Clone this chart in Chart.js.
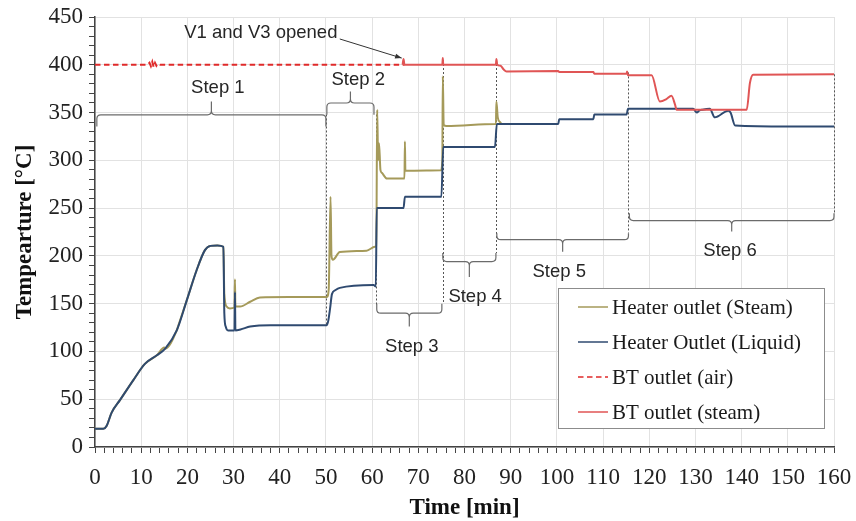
<!DOCTYPE html>
<html>
<head>
<meta charset="utf-8">
<script src="https://cdn.jsdelivr.net/npm/chart.js@4.4.1/dist/chart.umd.min.js"></script>
<style>
  html, body { margin: 0; padding: 0; background: #fff; }
  canvas { display: block; }
</style>
</head>
<body>
<canvas id="chart" width="856" height="521"></canvas>
<script>
const seriesNames = ['Heater outlet (Steam)', 'Heater Outlet (Liquid)', 'BT outlet (air)', 'BT outlet (steam)']
const seriesColors = ['#a59a5a', '#2f4a70', '#e02a2a', '#e05555']

// Heater outlet (Steam)
const steamTime = [0, 1.8, 2.5, 3.6, 5.4, 8.3, 10.8, 13.4, 15.0, 15.2, 17.7, 17.9, 19.9, 22, 23.8, 25.0, 26.5, 27.8,
  28.0, 28.5, 29.2, 30.2, 30.3, 30.4, 31.4, 33.6, 35.7, 42, 50.2, 50.6, 51.0, 51.2, 51.5, 53, 58.8, 60.6, 60.9,
  61.1, 61.3, 61.5, 61.8, 62.1, 63.2, 67.0, 67.1, 67.2, 74.9, 75.2, 75.3, 75.5, 76.1, 86.6, 86.8, 86.9, 87.2, 87.7, 88]
const steamTemp = [19, 19, 22, 36, 49, 70, 87, 96, 104, 103, 122, 125, 154, 185, 206, 210.5, 211, 209.5,
  160, 147, 145, 146, 175.5, 147, 147, 152, 156.5, 157, 157, 165, 262, 200, 196, 204, 205.5, 209.5, 210,
  353, 300, 318, 290, 287, 281, 281, 319.7, 289, 289.5, 300, 388, 337, 336, 338, 338, 361.6, 345, 340, 338]

// Heater Outlet (Liquid)
const liquidTime = [0, 1.8, 2.5, 3.6, 5.4, 8.3, 10.8, 13.4, 15.2, 17.7, 19.9, 22, 23.8, 25.0, 26.5, 27.8,
  28.0, 28.3, 28.8, 30.2, 30.3, 30.4, 31.5, 33.6, 38, 50.2, 50.5, 50.9, 51.3, 52, 53, 60.3, 60.8, 61.0,
  66.8, 67.1, 75.0, 75.4, 86.6, 87.0, 100.3, 100.5, 107.9, 108.1, 115.1, 115.4, 129.5, 130.3, 130.8, 131.5,
  133.1, 134.2, 137.1, 137.6, 138.6, 150, 160]
const liquidTemp = [19, 19, 22, 36, 49, 70, 87, 96, 103, 122, 154, 185, 206, 210.5, 211, 209.5,
  140, 126, 122, 122, 162, 122, 123, 126, 127.5, 127.5, 132, 145, 160, 164, 166.5, 169.5, 168, 250,
  250, 262, 262, 314, 314, 338, 338, 343, 343, 348, 348, 354, 354, 350, 352, 353,
  354, 345, 352, 350, 336.5, 335.5, 335.5]

// BT outlet (air)
const airTime = [0, 11.4, 11.8, 12.1, 12.4, 12.7, 13.0, 13.3, 13.6, 14.1, 67.0]
const airTemp = [400, 400, 402, 398.5, 403, 397.5, 402, 399, 401, 400, 400]

// BT outlet (steam)
const btSteamTime = [66.6, 66.8, 67.0, 75.2, 75.3, 75.4, 86.8, 86.9, 87.1, 87.8, 88.5, 89.1, 100.3, 100.5,
  107.9, 108.1, 115.1, 115.2, 115.4, 120.5, 122.3, 123.7, 124.8, 125.6, 125.9, 141.1, 141.8, 142.5, 160]
const btSteamTemp = [400, 406, 400, 400, 407, 400, 400, 406, 400, 399, 395, 393, 393.5, 392.4,
  392.4, 390.7, 390.7, 393, 389, 389, 361.6, 364, 367.6, 358, 353, 353, 381, 389.6, 390]

// step brackets (time span, bracket level, edge and tip temperatures, label position)
const stepNames = ['Step 1', 'Step 2', 'Step 3', 'Step 4', 'Step 5', 'Step 6']
const stepStart = [0.4, 50.2, 61, 75.3, 87, 115.7]
const stepEnd = [50, 60.4, 75.1, 86.8, 115.5, 160]
const stepLevel = [347.6, 360, 140, 194, 217, 237]
const stepEdge = [335.5, 347.6, 150, 203, 223.7, 244.6]
const stepTip = [361.6, 372, 126, 178, 204.4, 225.4]
const stepLabelTime = [26.6, 57, 68.6, 82.3, 100.5, 137.5]
const stepLabelTemp = [376, 384, 105, 157, 183, 205]

// dotted step boundaries
const dividerTime = [50.1, 60.9, 75.3, 86.9, 115.5, 160]
const dividerTop = [348, 348, 405, 405, 392, 390]
const dividerBottom = [126, 147, 150, 203, 223.7, 244.6]

// "V1 and V3 opened" note
const noteText = 'V1 and V3 opened'
const noteAt = [35.9, 433]
const arrowFrom = [53, 427]
const arrowTo = [66.4, 407]

const xTicks = { min: 0, max: 160, step: 2, labelEvery: 10 }
const yTicks = { min: 0, max: 450, step: 10, labelEvery: 50 }

const serif = '"Liberation Serif", "Times New Roman", serif'
const sans = '"Liberation Sans", Arial, sans-serif'

const toPoints = (xs, ys) => xs.map((x, i) => ({ x, y: ys[i] }))

const stepAnnotations = {
  id: 'stepAnnotations',
  beforeDatasetsDraw(chart) {
    const { ctx, scales: { x, y } } = chart
    ctx.save()
    ctx.strokeStyle = '#555'
    ctx.lineWidth = 1
    ctx.setLineDash([2, 2])
    dividerTime.forEach((t, i) => {
      const px = Math.round(x.getPixelForValue(t)) + 0.5
      ctx.beginPath()
      ctx.moveTo(px, y.getPixelForValue(dividerTop[i]))
      ctx.lineTo(px, y.getPixelForValue(dividerBottom[i]))
      ctx.stroke()
    })
    ctx.restore()
  },
  afterDatasetsDraw(chart) {
    const { ctx, scales: { x, y } } = chart
    ctx.save()
    ctx.strokeStyle = '#6b6b6b'
    ctx.lineWidth = 1.2
    ctx.fillStyle = '#262626'
    ctx.font = '18.5px ' + sans
    ctx.textAlign = 'center'
    ctx.textBaseline = 'middle'
    stepNames.forEach((name, i) => {
      const x0 = x.getPixelForValue(stepStart[i])
      const x1 = x.getPixelForValue(stepEnd[i])
      const xm = (x0 + x1) / 2
      const yl = y.getPixelForValue(stepLevel[i])
      const ye = y.getPixelForValue(stepEdge[i])
      const yt = y.getPixelForValue(stepTip[i])
      const d = Math.sign(ye - yl)
      const r = 4
      ctx.beginPath()
      ctx.moveTo(x0, ye)
      ctx.lineTo(x0, yl + d * r)
      ctx.quadraticCurveTo(x0, yl, x0 + r, yl)
      ctx.lineTo(xm - r, yl)
      ctx.quadraticCurveTo(xm, yl, xm, yl - d * r)
      ctx.lineTo(xm, yt)
      ctx.moveTo(xm, yl - d * r)
      ctx.quadraticCurveTo(xm, yl, xm + r, yl)
      ctx.lineTo(x1 - r, yl)
      ctx.quadraticCurveTo(x1, yl, x1, yl + d * r)
      ctx.lineTo(x1, ye)
      ctx.stroke()
      ctx.fillText(name, x.getPixelForValue(stepLabelTime[i]), y.getPixelForValue(stepLabelTemp[i]))
    })

    // note with arrow
    ctx.fillText(noteText, x.getPixelForValue(noteAt[0]), y.getPixelForValue(noteAt[1]))
    const ax0 = x.getPixelForValue(arrowFrom[0])
    const ay0 = y.getPixelForValue(arrowFrom[1])
    const ax1 = x.getPixelForValue(arrowTo[0])
    const ay1 = y.getPixelForValue(arrowTo[1])
    ctx.strokeStyle = '#333'
    ctx.lineWidth = 1
    ctx.beginPath()
    ctx.moveTo(ax0, ay0)
    ctx.lineTo(ax1, ay1)
    ctx.stroke()
    const ang = Math.atan2(ay1 - ay0, ax1 - ax0)
    ctx.fillStyle = '#333'
    ctx.beginPath()
    ctx.moveTo(ax1, ay1)
    ctx.lineTo(ax1 - 7 * Math.cos(ang - 0.35), ay1 - 7 * Math.sin(ang - 0.35))
    ctx.lineTo(ax1 - 7 * Math.cos(ang + 0.35), ay1 - 7 * Math.sin(ang + 0.35))
    ctx.closePath()
    ctx.fill()
    ctx.restore()
  },
}

const boxLegend = {
  id: 'boxLegend',
  afterDraw(chart) {
    const { ctx } = chart
    const left = 558.5, top = 288.5, w = 266, h = 140
    ctx.save()
    ctx.fillStyle = '#fff'
    ctx.fillRect(left, top, w, h)
    ctx.strokeStyle = '#8c8c8c'
    ctx.lineWidth = 1
    ctx.strokeRect(left, top, w, h)
    ctx.font = '21px ' + serif
    ctx.textBaseline = 'middle'
    ctx.textAlign = 'left'
    chart.data.datasets.forEach((ds, i) => {
      const yy = 307 + i * 35
      ctx.strokeStyle = ds.borderColor
      ctx.lineWidth = 1.5
      ctx.setLineDash(ds.borderDash || [])
      ctx.beginPath()
      ctx.moveTo(578, yy)
      ctx.lineTo(608, yy)
      ctx.stroke()
      ctx.setLineDash([])
      ctx.fillStyle = '#1a1a1a'
      ctx.fillText(ds.label, 612, yy + 1)
    })
    ctx.restore()
  },
}

const lineSet = (i, xs, ys, extra) => ({
  label: seriesNames[i],
  data: toPoints(xs, ys),
  borderColor: seriesColors[i],
  borderWidth: 2,
  pointRadius: 0,
  cubicInterpolationMode: 'monotone',
  fill: false,
  ...extra,
})

new Chart(document.getElementById('chart'), {
  type: 'line',
  data: {
    datasets: [
      lineSet(0, steamTime, steamTemp, { order: 4 }),
      lineSet(1, liquidTime, liquidTemp, { order: 3 }),
      lineSet(2, airTime, airTemp, { order: 2, borderDash: [5.5, 3.5], cubicInterpolationMode: 'default', tension: 0 }),
      lineSet(3, btSteamTime, btSteamTemp, { order: 1 }),
    ],
  },
  options: {
    responsive: false,
    animation: false,
    events: [],
    layout: { padding: { left: 0, right: 22, top: 17, bottom: 0 } },
    plugins: { legend: { display: false }, tooltip: { enabled: false } },
    scales: {
      x: {
        type: 'linear',
        min: xTicks.min,
        max: xTicks.max,
        afterFit: (s) => {
          s.height = 74
          s.paddingLeft = 0
          s.paddingRight = 0
        },
        border: { color: '#444', width: 1.5 },
        grid: {
          color: (c) => (c.tick && c.tick.value % xTicks.labelEvery === 0 ? '#e2e2e2' : 'rgba(0,0,0,0)'),
          tickColor: '#444',
          tickLength: 6,
        },
        ticks: {
          stepSize: xTicks.step,
          autoSkip: false,
          maxRotation: 0,
          padding: 11,
          color: '#222',
          font: { family: serif, size: 23 },
          callback: (v) => (v % xTicks.labelEvery === 0 ? v : ''),
        },
        title: {
          display: true,
          text: 'Time [min]',
          color: '#111',
          font: { family: serif, size: 23, weight: 'bold' },
          padding: { top: 0, bottom: -1 },
        },
      },
      y: {
        min: yTicks.min,
        max: yTicks.max,
        afterFit: (s) => {
          s.width = 95
          s.paddingTop = 0
          s.paddingBottom = 0
        },
        border: { color: '#444', width: 1.5 },
        grid: {
          color: (c) => (c.tick && c.tick.value % yTicks.labelEvery === 0 ? '#e2e2e2' : 'rgba(0,0,0,0)'),
          tickColor: '#444',
          tickLength: 6,
        },
        ticks: {
          stepSize: yTicks.step,
          autoSkip: false,
          padding: 6,
          color: '#222',
          font: { family: serif, size: 23 },
          callback: (v) => (v % yTicks.labelEvery === 0 ? v : ''),
        },
        title: {
          display: true,
          text: 'Tempearture [°C]',
          color: '#111',
          font: { family: serif, size: 23, weight: 'bold' },
          padding: { top: 11, bottom: 0 },
        },
      },
    },
  },
  plugins: [stepAnnotations, boxLegend],
})
</script>
</body>
</html>
